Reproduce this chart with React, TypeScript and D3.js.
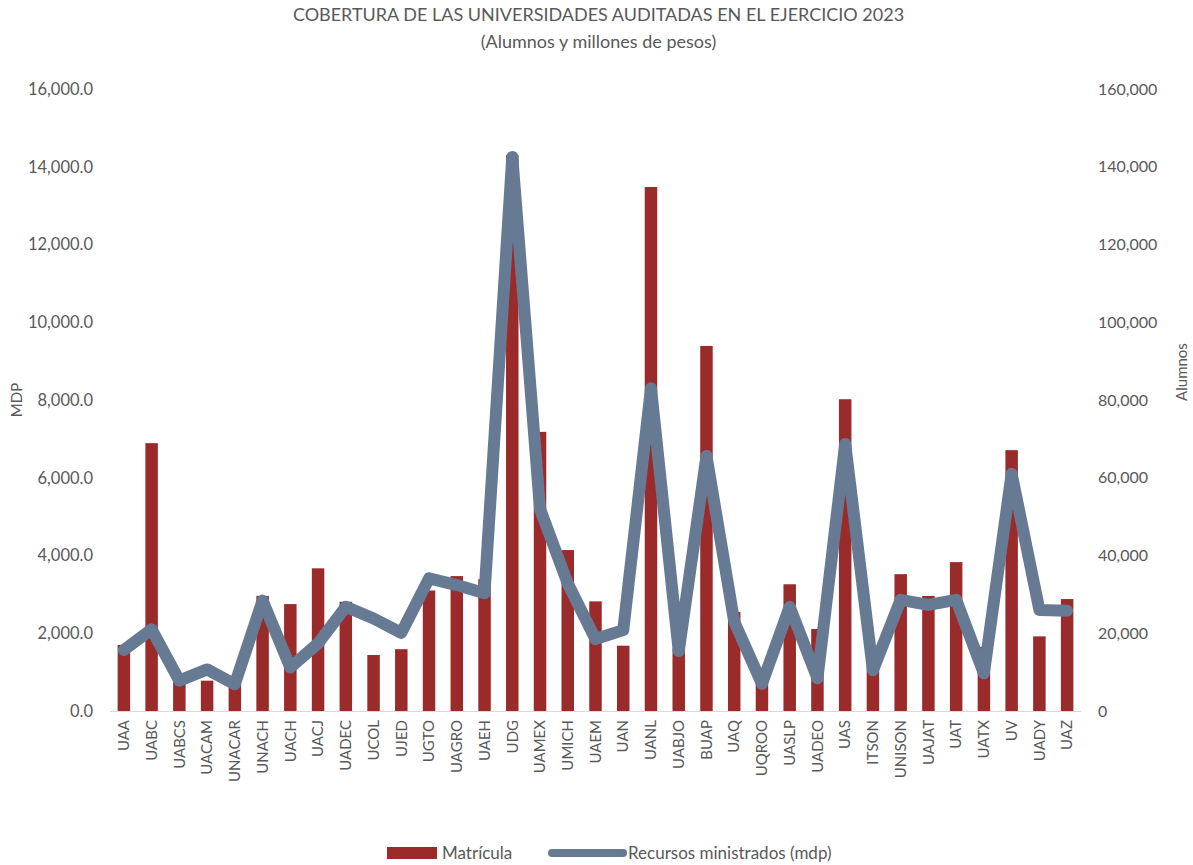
import React from 'react';
import * as d3 from 'd3';

const universidades = [
  'UAA', 'UABC', 'UABCS', 'UACAM', 'UNACAR', 'UNACH', 'UACH', 'UACJ', 'UADEC', 'UCOL',
  'UJED', 'UGTO', 'UAGRO', 'UAEH', 'UDG', 'UAMEX', 'UMICH', 'UAEM', 'UAN', 'UANL',
  'UABJO', 'BUAP', 'UAQ', 'UQROO', 'UASLP', 'UADEO', 'UAS', 'ITSON', 'UNISON', 'UAJAT',
  'UAT', 'UATX', 'UV', 'UADY', 'UAZ',
];

// alumnos (right axis)
const matricula = [
  17000, 68900, 8000, 7800, 7100, 29600, 27500, 36700, 28100, 14400,
  15900, 31000, 34700, 33900, 143000, 71800, 41400, 28200, 16800, 134800,
  16000, 93900, 25500, 9000, 32600, 21100, 80200, 16800, 35200, 29600,
  38300, 16500, 67100, 19200, 28800,
];

// millones de pesos (left axis)
const recursos = [
  1570, 2100, 780, 1070, 690, 2840, 1120, 1740, 2680, 2380,
  2010, 3410, 3240, 3030, 14250, 5200, 3280, 1850, 2080, 8300,
  1540, 6560, 2300, 700, 2680, 840, 6870, 1050, 2860, 2730,
  2860, 970, 6100, 2600, 2580,
];

const mdpTicks = [0, 2000, 4000, 6000, 8000, 10000, 12000, 14000, 16000];
const alumnosTicks = [0, 20000, 40000, 60000, 80000, 100000, 120000, 140000, 160000];

const W = 1193;
const H = 865;
const FONT = 'Lato, "Open Sans", sans-serif';
const TXT = '#595959';
const BAR = '#9b2a2a';
const LINE = '#677a93';

export default function App() {
  const left = 110;
  const right = 1081;
  const top = 89;
  const bottom = 711;

  const x = d3
    .scaleBand()
    .domain(universidades)
    .range([left, right])
    .paddingInner(0.55)
    .paddingOuter(0.275);
  const yL = d3.scaleLinear().domain([0, 16000]).range([bottom, top]);
  const yR = d3.scaleLinear().domain([0, 160000]).range([bottom, top]);
  const cx = (c: string) => (x(c) ?? 0) + x.bandwidth() / 2;

  const line = d3
    .line<number>()
    .x((_, i) => cx(universidades[i]))
    .y((d) => yL(d));

  const fmtL = d3.format(',.1f');
  const fmtR = d3.format(',');

  return (
    <svg width={W} height={H} style={{ position: 'absolute', left: 0, top: 0 }} fontFamily={FONT}>
      <rect width={W} height={H} fill="#fff" />
      <text x={W / 2 + 2} y={21} textAnchor="middle" fontSize={18} fill={TXT}>
        COBERTURA DE LAS UNIVERSIDADES AUDITADAS EN EL EJERCICIO 2023
      </text>
      <text x={W / 2 + 2} y={48} textAnchor="middle" fontSize={18} fill={TXT}>
        (Alumnos y millones de pesos)
      </text>

      {mdpTicks.map((t) => (
        <text key={t} x={93} y={yL(t)} dy="0.35em" textAnchor="end" fontSize={16.5} fill={TXT}>
          {fmtL(t)}
        </text>
      ))}
      {alumnosTicks.map((t) => (
        <text key={t} x={1098} y={yR(t)} dy="0.35em" textAnchor="start" fontSize={16} fill={TXT}>
          {fmtR(t)}
        </text>
      ))}
      <text transform={`translate(22,400) rotate(-90)`} textAnchor="middle" fontSize={15} fill={TXT}>
        MDP
      </text>
      <text transform={`translate(1187,372) rotate(-90)`} textAnchor="middle" fontSize={15} fill={TXT}>
        Alumnos
      </text>

      {matricula.map((v, i) => (
        <rect
          key={universidades[i]}
          x={x(universidades[i])}
          y={yR(v)}
          width={x.bandwidth()}
          height={yR(0) - yR(v)}
          fill={BAR}
        />
      ))}
      <line x1={left} x2={right} y1={bottom + 0.5} y2={bottom + 0.5} stroke="#d9d9d9" strokeWidth={1} />

      <path
        d={line(recursos) ?? ''}
        fill="none"
        stroke={LINE}
        strokeWidth={12}
        strokeLinejoin="round"
        strokeLinecap="round"
      />

      {universidades.map((c) => (
        <text
          key={c}
          transform={`translate(${cx(c)},${bottom + 9}) rotate(-90)`}
          dy="0.35em"
          textAnchor="end"
          fontSize={15}
          fill={TXT}
        >
          {c}
        </text>
      ))}

      <g transform="translate(387,853)">
        <rect x={0} y={-6} width={50} height={12} fill={BAR} />
        <text x={55} y={0} dy="0.35em" fontSize={17} fill={TXT}>
          Matrícula
        </text>
        <line x1={165} x2={236} y1={0} y2={0} stroke={LINE} strokeWidth={8} strokeLinecap="round" />
        <text x={241} y={0} dy="0.35em" fontSize={17} fill={TXT}>
          Recursos ministrados (mdp)
        </text>
      </g>
    </svg>
  );
}
